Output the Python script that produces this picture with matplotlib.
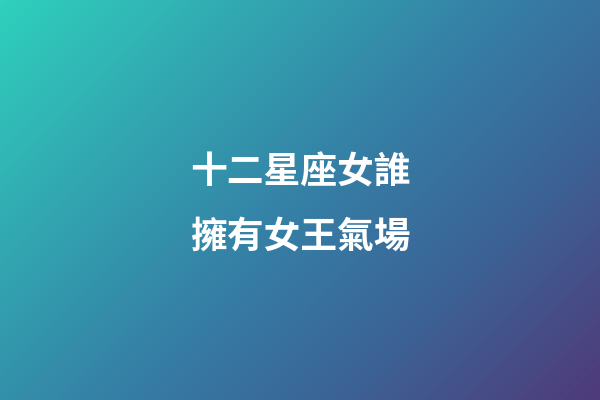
import numpy as np
import matplotlib.pyplot as plt
from matplotlib.colors import LinearSegmentedColormap

# text lines of the cover
title_lines = ["十二星座女誰", "擁有女王氣場"]
line_y = [0.567, 0.408]  # centre of each line in figure fraction

# gradient colours: top-left -> centre -> bottom-right
grad_colors = ["#2fd0bd", "#3580a6", "#3b6597", "#4f3a7a"]
grad_stops = [0.0, 0.5, 0.72, 1.0]

fig = plt.figure(figsize=(6, 4), dpi=100)
ax = fig.add_axes([0, 0, 1, 1])
ax.set_axis_off()

cmap = LinearSegmentedColormap.from_list("bg", list(zip(grad_stops, grad_colors)))
xx, yy = np.meshgrid(np.linspace(0, 1, 600), np.linspace(0, 1, 400))
t = (xx * 0.6 + yy * 0.4)
ax.imshow(t, cmap=cmap, extent=[0, 1, 0, 1], origin="upper", aspect="auto", vmin=0, vmax=1)
ax.set_xlim(0, 1)
ax.set_ylim(0, 1)

for txt, y in zip(title_lines, line_y):
    fig.text(0.5, y, txt, ha="center", va="center", color="white",
             fontsize=26.5, fontweight="bold",
             family=["Noto Sans CJK TC", "DejaVu Sans"])

fig.savefig("out.png", dpi=100)
